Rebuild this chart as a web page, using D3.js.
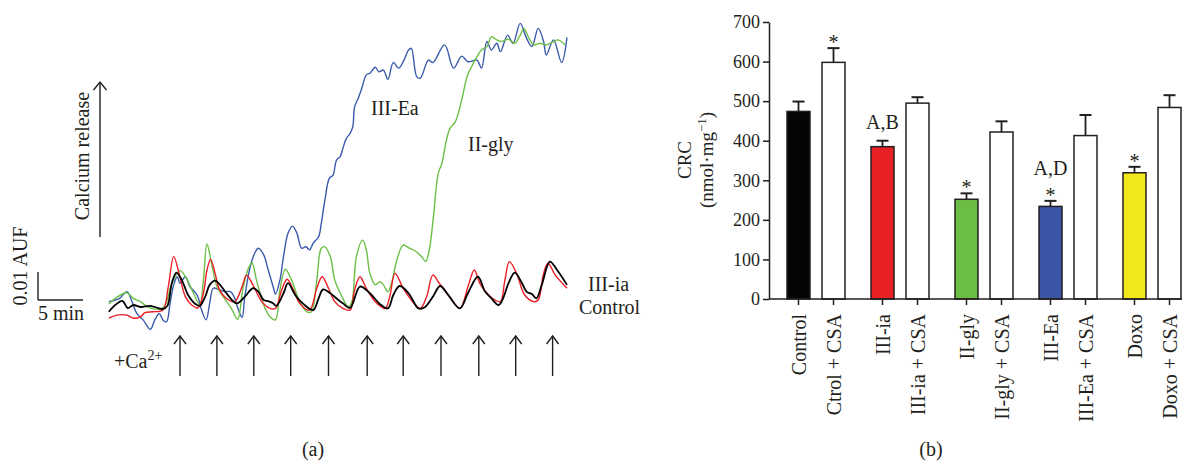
<!DOCTYPE html>
<html>
<head>
<meta charset="utf-8">
<script src="https://cdn.jsdelivr.net/npm/d3@7"></script>
<style>
body{margin:0;background:#fff}
svg text{font-family:"Liberation Serif","Times New Roman",serif;fill:#231f20}
</style>
</head>
<body>
<div id="chart-area"></div>
<script>

// ---- panel (a) traces: [time (min), signal (mAUF)] ----
var blueTrace = [[0.1,-0.6],[0.8,0],[1.3,0.6],[2.1,3.0],[2.6,0],[3.2,-4.8],[3.9,-7.1],[4.7,-10.5],[5.2,-7.1],[5.7,-4.8],[6.1,-7.1],[6.5,-7.8],[6.9,-1.2],[7.3,5.4],[7.7,8.3],[8.0,6.0],[8.6,8.3],[9.1,4.8],[9.9,1.8],[10.4,-3.6],[10.9,-7.1],[11.3,-1.2],[11.7,4.2],[12.4,3.6],[13.0,3.0],[13.6,3.0],[14.0,1.2],[14.5,-3.6],[14.9,-6.2],[15.2,1.2],[15.8,11.9],[16.3,16.7],[16.7,18.5],[17.3,16.1],[17.8,10.7],[18.4,4.2],[18.6,2.1],[19.1,7.1],[19.5,15.5],[20.0,23.8],[20.5,26.4],[21.0,23.8],[21.5,18.5],[22.0,19.0],[22.4,17.9],[22.8,20.3],[23.4,22.6],[23.7,27.4],[24.1,35.7],[24.6,43.5],[25.0,44.6],[25.4,50.0],[25.8,51.2],[26.1,54.2],[26.5,57.8],[26.9,59.5],[27.2,61.9],[27.4,69.0],[27.8,72.0],[28.2,75.6],[28.7,80.4],[29.1,81.0],[29.7,83.1],[30.1,81.5],[30.6,82.1],[31.1,78.8],[31.7,84.8],[32.3,82.8],[32.8,85.1],[33.4,89.3],[33.7,89.9],[34.3,79.8],[34.7,79.2],[35.6,85.7],[36.1,84.8],[37.4,91.1],[38.4,82.8],[39.3,87.1],[40.0,85.1],[41.0,85.7],[41.5,82.8],[42.1,92.3],[42.6,89.3],[43.2,91.7],[43.6,88.7],[44.4,94.6],[45.0,91.7],[45.8,98.8],[46.5,93.5],[47.1,90.5],[47.8,97.0],[48.4,92.3],[48.7,87.5],[49.5,92.9],[50.4,84.8],[51.0,93.8]]

var greenTrace = [[0.1,-1.4],[0.8,0.6],[2.1,2.6],[2.8,0.6],[3.6,-0.6],[4.5,-2.6],[5.6,-3.3],[6.3,-2.1],[7.1,6.0],[8.0,10.5],[8.7,7.8],[9.5,2.4],[10.2,-1.8],[10.6,7.1],[11.0,20.0],[11.5,13.1],[12.1,4.8],[12.8,1.2],[13.7,-3.0],[14.4,-6.9],[15.0,4.2],[15.6,11.3],[16.0,13.3],[16.5,7.1],[17.3,-1.8],[18.0,-6.0],[18.6,-7.1],[19.1,3.6],[19.7,11.0],[20.4,7.1],[21.3,-0.6],[22.1,-4.2],[22.6,-4.2],[23.2,7.1],[23.7,18.5],[24.1,19.0],[24.7,15.5],[25.2,7.1],[26.0,1.2],[26.7,-2.4],[27.1,-0.6],[27.6,15.5],[28.3,21.4],[28.7,17.9],[29.1,9.5],[29.7,5.4],[30.2,6.5],[30.6,5.4],[31.1,3.0],[31.5,6.0],[32.1,14.3],[32.8,19.6],[33.5,18.5],[34.1,17.6],[34.9,15.3],[35.3,13.7],[35.7,17.9],[36.0,25.0],[36.2,31.0],[36.7,45.3],[37.1,48.8],[37.6,57.1],[38.0,61.3],[38.6,63.7],[39.3,71.4],[39.9,79.8],[40.4,83.3],[41.0,86.9],[41.5,89.3],[42.1,90.5],[42.6,94.0],[43.2,92.9],[43.7,92.3],[44.5,93.1],[45.2,91.7],[45.8,94.6],[46.2,97.0],[46.7,94.0],[47.3,91.1],[48.0,91.7],[48.7,91.1],[49.5,92.3],[50.0,92.9],[50.8,91.1]]

var redTrace = [[0.1,-6.5],[1.0,-5.4],[2.1,-5.4],[2.8,-6.5],[3.6,-6.0],[4.1,-4.5],[5.0,-4.2],[6.1,-3.6],[6.7,4.8],[7.3,15.5],[7.9,9.5],[8.6,1.2],[9.3,-1.8],[10.0,-2.8],[10.6,2.4],[11.0,10.7],[11.4,14.5],[11.9,9.5],[12.4,3.6],[13.4,0],[14.1,-0.6],[14.9,4.8],[15.4,8.9],[16.1,5.4],[17.1,-0.6],[18.0,-3.0],[18.6,-3.0],[19.3,3.6],[19.9,7.4],[20.6,3.6],[21.3,-1.2],[22.4,-3.6],[23.2,4.2],[23.8,8.3],[24.5,4.2],[25.2,-0.6],[26.1,-3.0],[26.9,-3.6],[27.4,3.6],[28.0,8.3],[28.7,4.2],[29.7,-0.6],[30.8,-3.0],[31.3,1.2],[31.9,9.5],[32.8,4.2],[33.7,0],[34.7,-3.0],[35.4,1.2],[36.1,8.9],[36.8,6.0],[37.8,1.8],[39.1,-3.0],[40.0,4.8],[40.7,10.7],[41.3,6.0],[42.1,2.4],[43.0,0],[43.6,-0.6],[44.1,7.1],[44.6,13.7],[45.4,9.5],[46.3,1.8],[47.3,-0.6],[47.8,0],[48.4,9.5],[48.9,13.1],[49.7,8.9],[51.0,4.2]]

var blackTrace = [[0.1,-4.2],[0.8,-1.8],[1.6,-0.3],[2.2,-2.9],[2.8,-1.8],[3.6,-2.5],[4.7,-2.1],[5.6,-2.9],[6.1,-3.2],[6.6,-2.1],[7.1,6.1],[7.6,9.8],[8.2,7.1],[8.9,1.8],[9.7,-1.4],[10.2,-2.1],[10.8,1.2],[11.3,5.4],[11.9,6.9],[12.6,4.8],[13.3,1.8],[14.3,-1.2],[15.2,1.2],[16.1,4.2],[16.7,3.0],[17.3,0],[17.8,-0.4],[18.3,-1.1],[18.7,-2.1],[19.5,2.4],[20.0,6.0],[20.8,1.8],[21.7,-1.4],[22.8,-3.6],[23.4,0.6],[23.9,3.8],[24.7,2.4],[25.6,0],[26.1,-1.2],[26.9,-2.8],[28.0,4.8],[29.1,2.4],[30.2,-1.4],[31.1,-3.0],[31.7,1.8],[32.4,5.0],[33.4,2.4],[34.5,-3.0],[35.2,-2.6],[36.1,1.2],[36.9,5.0],[37.8,1.8],[39.1,-3.0],[40.0,2.5],[41.1,8.3],[41.9,3.0],[42.6,0.6],[43.4,-1.8],[43.9,0.6],[44.5,6.0],[45.2,9.8],[46.0,6.0],[46.5,3.0],[47.1,2.1],[47.6,0.6],[48.2,5.4],[49.1,13.7],[49.9,10.7],[51.0,5.4]]

// Ca2+ additions (min)
var caTimes = [8.0, 12.1, 16.2, 20.3, 24.5, 28.8, 32.8, 37.0, 41.2, 45.3, 49.4]

// ---- panel (b) bars ----
var categories = ["Control","Ctrol + CSA","III-ia","III-ia + CSA","II-gly","II-gly + CSA","III-Ea","III-Ea + CSA","Doxo","Doxo + CSA"]
var crcMean = [474, 598, 385, 495, 252, 422, 234, 413, 319, 484]
var crcSem = [25, 36, 15, 15, 15, 27, 14, 52, 15, 31]
var starMark = [false, true, false, false, true, false, true, false, true, false]
var letterMark = ["", "", "A,B", "", "", "", "A,D", "", "", ""]
var barColors = ["#050505","#ffffff","#e82127","#ffffff","#6cbd45","#ffffff","#3a55a3","#ffffff","#f2e81a","#ffffff"]
var yTicks = [0,100,200,300,400,500,600,700]

var ink = "#231f20"

var svg = d3.select('#chart-area').append('svg')
	.attr('width', 1182)
	.attr('height', 463)

//Panel (a)

var xT = d3.scaleLinear().domain([0, 51]).range([108, 567])
var yT = d3.scaleLinear().domain([0, 10]).range([300, 272])

var line = d3.line()
	.x(function(d){ return xT(d[0]) })
	.y(function(d){ return yT(d[1]) })
	.curve(d3.curveCatmullRom.alpha(0.5))

var traces = [
	{data: blueTrace, color: "#3a5bab", w: 1.4},
	{data: greenTrace, color: "#6cbf45", w: 1.4},
	{data: redTrace, color: "#ee1c24", w: 1.4},
	{data: blackTrace, color: "#000000", w: 1.8}
]

svg.selectAll('path.trace')
	.data(traces)
	.enter()
	.append('path')
	.attr('class', 'trace')
	.attr('d', function(d){ return line(d.data) })
	.attr('fill', 'none')
	.attr('stroke', function(d){ return d.color })
	.attr('stroke-width', function(d){ return d.w })

//Ca2+ arrows
var arrows = svg.append('g').attr('stroke', ink).attr('stroke-width', 1.4).attr('fill', 'none')
caTimes.forEach(function(t){
	var x = xT(t)
	arrows.append('line').attr('x1', x).attr('x2', x).attr('y1', 376).attr('y2', 336)
	arrows.append('path').attr('d', 'M' + (x - 6) + ',344L' + x + ',336L' + (x + 6) + ',344')
})

svg.append('text')
	.attr('x', 114).attr('y', 368)
	.attr('font-size', '20px')
	.html('+Ca<tspan dy="-8" font-size="14px">2+</tspan>')

//Calcium release arrow
arrows.append('line').attr('x1', 100).attr('x2', 100).attr('y1', 237).attr('y2', 82)
arrows.append('path').attr('d', 'M93.5,90L100,82L106.5,90')

svg.append('text')
	.attr('transform', 'translate(89,156) rotate(-90)')
	.attr('text-anchor', 'middle')
	.attr('font-size', '20px')
	.text('Calcium release')

//scale bar
var bar = svg.append('g').attr('stroke', ink).attr('stroke-width', 1.4)
bar.append('line').attr('x1', 38).attr('x2', 38).attr('y1', yT(10)).attr('y2', yT(0))
bar.append('line').attr('x1', 38).attr('x2', 38 + xT(5) - xT(0)).attr('y1', yT(0)).attr('y2', yT(0))

svg.append('text')
	.attr('transform', 'translate(27,266) rotate(-90)')
	.attr('text-anchor', 'middle')
	.attr('font-size', '20px')
	.text('0.01 AUF')

svg.append('text')
	.attr('x', 38).attr('y', 320)
	.attr('font-size', '20px')
	.text('5 min')

//trace labels
var labs = [["III-Ea", 371, 115], ["II-gly", 468, 151], ["III-ia", 588, 291], ["Control", 579, 314]]
svg.selectAll('text.lab')
	.data(labs)
	.enter()
	.append('text')
	.attr('class', 'lab')
	.attr('x', function(d){ return d[1] })
	.attr('y', function(d){ return d[2] })
	.attr('font-size', '20px')
	.text(function(d){ return d[0] })

svg.append('text').attr('x', 313).attr('y', 456).attr('text-anchor', 'middle').attr('font-size', '20px').text('(a)')

//Panel (b)

var yB = d3.scaleLinear().domain([0, 700]).range([299, 22])

var xGroup = d3.scaleBand()
	.domain(d3.range(5))
	.range([769, 1199])
	.paddingInner(26 / 84)
	.paddingOuter(18 / 84)

var xInner = d3.scaleBand()
	.domain([0, 1])
	.range([0, xGroup.bandwidth()])
	.paddingInner(12 / 35)
	.paddingOuter(0)

function barX(i){ return xGroup(Math.floor(i / 2)) + xInner(i % 2) }
function barC(i){ return barX(i) + xInner.bandwidth() / 2 }

var bars = svg.append('g')

//error bars
categories.forEach(function(c, i){
	var cx = barC(i)
	var top = yB(crcMean[i] + crcSem[i])
	bars.append('line').attr('x1', cx).attr('x2', cx).attr('y1', yB(crcMean[i])).attr('y2', top)
		.attr('stroke', ink).attr('stroke-width', 1.8)
	bars.append('line').attr('x1', cx - 6).attr('x2', cx + 6).attr('y1', top).attr('y2', top)
		.attr('stroke', ink).attr('stroke-width', 2)
})

bars.selectAll('rect')
	.data(crcMean)
	.enter()
	.append('rect')
	.attr('x', function(d, i){ return barX(i) })
	.attr('y', function(d){ return yB(d) })
	.attr('width', xInner.bandwidth())
	.attr('height', function(d){ return yB(0) - yB(d) })
	.attr('fill', function(d, i){ return barColors[i] })
	.attr('stroke', ink)
	.attr('stroke-width', 1.5)

//significance marks
categories.forEach(function(c, i){
	var top = yB(crcMean[i] + crcSem[i])
	var off = 0
	if (starMark[i]) {
		svg.append('text').attr('x', barC(i)).attr('y', top + 1)
			.attr('text-anchor', 'middle').attr('font-size', '20px').text('*')
		off = 14
	}
	if (letterMark[i]) {
		svg.append('text').attr('x', barC(i)).attr('y', top - 12 - off)
			.attr('text-anchor', 'middle').attr('font-size', '20px').text(letterMark[i])
	}
})

//y axis
var yAxis = d3.axisLeft(yB).tickValues(yTicks).tickSize(6).tickSizeOuter(0).tickPadding(3)
var yg = svg.append('g').attr('transform', 'translate(769,0)').call(yAxis)
yg.selectAll('text').attr('font-size', '18px').style('font-family', '"Liberation Serif", serif').attr('fill', ink)
yg.selectAll('line,path').attr('stroke', ink).attr('stroke-width', 1.5)

//x axis by hand
var xg = svg.append('g')
xg.append('line').attr('x1', 769).attr('x2', 1182).attr('y1', yB(0)).attr('y2', yB(0))
	.attr('stroke', ink).attr('stroke-width', 1.5)
categories.forEach(function(c, i){
	xg.append('line').attr('x1', barC(i)).attr('x2', barC(i)).attr('y1', yB(0)).attr('y2', yB(0) + 6)
		.attr('stroke', ink).attr('stroke-width', 1.5)
	xg.append('text')
		.attr('transform', 'translate(' + barC(i) + ',314) rotate(-90)')
		.attr('text-anchor', 'end')
		.attr('dy', '0.35em')
		.attr('font-size', '20px')
		.text(c)
})

//y labels
svg.append('text')
	.attr('transform', 'translate(691,160) rotate(-90)')
	.attr('text-anchor', 'middle')
	.attr('font-size', '19px')
	.text('CRC')

svg.append('text')
	.attr('transform', 'translate(713,160) rotate(-90)')
	.attr('text-anchor', 'middle')
	.attr('font-size', '19px')
	.html('(nmol·mg<tspan dy="-7" font-size="13px">−1</tspan><tspan dy="7">)</tspan>')

svg.append('text').attr('x', 931).attr('y', 456).attr('text-anchor', 'middle').attr('font-size', '20px').text('(b)')

</script>
</body>
</html>
